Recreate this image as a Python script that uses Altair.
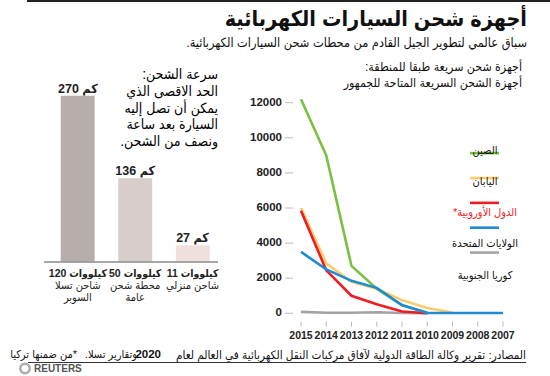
import altair as alt
import pandas as pd

FONT = "Liberation Sans, DejaVu Sans Condensed, DejaVu Sans"
RLM = "\u200f"
LRM = "\u200e"

# ---------------- data ----------------
years = [2015, 2014, 2013, 2012, 2011, 2010, 2009, 2008, 2007]
series_names = ["الصين", "اليابان", "الدول الأوروبية*", "الولايات المتحدة", "كوريا الجنوبية"]
series_colors = ["#78c142", "#fbcb6e", "#ee1d23", "#1f8bd3", "#a3a3a3"]
china = [12200, 9000, 2700, 1400, 450, 50, None, None, None]
japan = [6000, 2850, 1800, 1400, 750, 300, 50, None, None]
europe = [5850, 2450, 1000, 520, 100, 0, None, None, None]
usa = [3500, 2500, 1850, 1450, 470, 20, 20, 20, 20]
korea = [80, 30, 30, 60, 20, 10, None, None, None]
y_ticks = [0, 2000, 4000, 6000, 8000, 10000, 12000]

bar_cats = ["120 كيلووات", "50 كيلووات", "11 كيلووات"]
bar_vals = [270, 136, 27]
bar_value_labels = ["270 كم", "136 كم", "27 كم"]
bar_sub1 = ["شاحن تسلا", "محطة شحن", "شاحن منزلي"]
bar_sub2 = ["السوبر", "عامة", ""]
bar_colors = ["#b7adaa", "#d7cdca", "#f0e0dd"]

title = "أجهزة شحن السيارات الكهربائية"
subtitle = "سباق عالمي لتطوير الجيل القادم من محطات شحن السيارات الكهربائية." + RLM
line_title = ["أجهزة شحن سريعة طبقا للمنطقة:" + RLM, "أجهزة الشحن السريعة المتاحة للجمهور"]
bar_note = ["سرعة الشحن:" + RLM, "الحد الاقصى الذي", "يمكن أن تصل إليه", "السيارة بعد ساعة", "ونصف من الشحن." + RLM]
source_a = "المصادر: تقرير وكالة الطاقة الدولية لآفاق مركبات النقل الكهربائية في العالم لعام"
source_year = "2020"
source_b = "وتقارير تسلا." + RLM
footnote = RLM + "*من ضمنها تركيا"

# ---------------- scales ----------------
XL = alt.Scale(domain=[2007, 2015], range=[503, 301], nice=False, zero=False)
YL = alt.Scale(domain=[0, 12000], range=[313.3, 102.7], nice=False, zero=False)
XB = alt.Scale(domain=bar_cats, range=[49.2, 221.2], paddingInner=0.41, paddingOuter=0.2)
YB = alt.Scale(domain=[0, 270], range=[262, 95.7], nice=False, zero=False)

one = alt.Data(values=[{"a": 1}])

def txt(s, x, y, size=12, weight="normal", align="right", color="#111", baseline="middle", **kw):
    return alt.Chart(one).mark_text(
        font=FONT, fontSize=size, fontWeight=weight, align=align, baseline=baseline,
        color=color, **kw
    ).encode(x=alt.value(x), y=alt.value(y), text=alt.value(s))

layers = []

# header
layers.append(alt.Chart(one).mark_rule(color="#222", strokeWidth=2).encode(
    x=alt.value(27), x2=alt.value(550), y=alt.value(1)))
layers.append(txt(title, 527, 26, size=21.5, weight="bold", baseline="alphabetic"))
layers.append(txt(subtitle, 527, 47, size=12.7, baseline="alphabetic"))

# ---------------- line chart ----------------
ydf = pd.DataFrame({"v": y_ticks})
layers.append(alt.Chart(ydf).mark_rule(color="#bbbbbb", strokeWidth=1).encode(
    x=alt.value(285), x2=alt.value(293), y=alt.Y("v:Q", scale=YL, axis=None)))
layers.append(alt.Chart(ydf).mark_text(font=FONT, fontSize=11.5, fontWeight="bold", align="right",
                                       baseline="middle", color="#222").encode(
    x=alt.value(282), y=alt.Y("v:Q", scale=YL, axis=None), text=alt.Text("v:Q", format="d")))

xdf = pd.DataFrame({"yr": years})
layers.append(alt.Chart(xdf).mark_rule(color="#bbbbbb", strokeWidth=1).encode(
    x=alt.X("yr:Q", scale=XL, axis=None), y=alt.value(321.7), y2=alt.value(326.7)))
layers.append(alt.Chart(xdf).mark_text(font=FONT, fontSize=10.5, fontWeight="bold", align="center",
                                       baseline="middle", color="#222").encode(
    x=alt.X("yr:Q", scale=XL, axis=None), y=alt.value(335.5), text=alt.Text("yr:Q", format="d")))

series_vals = [china, japan, europe, usa, korea]
draw_order = [4, 1, 0, 2, 3]
for i in draw_order:
    rows = [{"yr": y, "v": v} for y, v in zip(years, series_vals[i]) if v is not None]
    layers.append(alt.Chart(pd.DataFrame(rows)).mark_line(color=series_colors[i], strokeWidth=2.6).encode(
        x=alt.X("yr:Q", scale=XL, axis=None), y=alt.Y("v:Q", scale=YL, axis=None)))

# legend (line segments + labels)
ldf = pd.DataFrame({"name": series_names, "col": series_colors})
LEG = alt.Scale(domain=series_names, range=[140.7, 265], padding=0)
layers.append(alt.Chart(ldf).mark_rule(strokeWidth=2.6).encode(
    x=alt.value(470), x2=alt.value(499),
    y=alt.Y("name:N", scale=LEG, axis=None),
    color=alt.Color("col:N", scale=None)))
layers.append(alt.Chart(ldf).mark_text(font=FONT, fontSize=11, align="center", baseline="middle",
                                       dy=10.5).encode(
    x=alt.value(485),
    y=alt.Y("name:N", scale=LEG, axis=None),
    text=alt.Text("label:N"),
    color=alt.Color("tc:N", scale=None)).transform_calculate(
        label="'\u200f' + datum.name + '\u200f'",
        tc="datum.name == '" + series_names[2] + "' ? '#ee1d23' : '#111111'"))

layers.append(txt(line_title, 522, 67, size=12.3, baseline="middle", lineHeight=16))

# ---------------- bar chart ----------------
bdf = pd.DataFrame({"cat": bar_cats, "val": bar_vals, "lab": bar_value_labels,
                    "s1": bar_sub1, "s2": bar_sub2, "col": bar_colors})
BX = alt.X("cat:N", scale=XB, axis=None, sort=bar_cats)
layers.append(alt.Chart(bdf).mark_bar().encode(
    x=BX, y=alt.Y("val:Q", scale=YB, axis=None), color=alt.Color("col:N", scale=None)))
layers.append(alt.Chart(bdf).mark_rule(color="#9a9a9a", strokeWidth=1).encode(
    x=alt.value(44), x2=alt.value(218), y=alt.Y("zero:Q", scale=YB, axis=None)
).transform_calculate(zero="0"))
layers.append(alt.Chart(bdf).mark_text(font=FONT, fontSize=12.5, fontWeight="bold", align="center",
                                       baseline="alphabetic", dy=-3, color="#222").encode(
    x=BX, y=alt.Y("val:Q", scale=YB, axis=None), text="lab2:N"
).transform_calculate(lab2="'\u200e' + datum.lab"))
layers.append(alt.Chart(bdf).mark_text(font=FONT, fontSize=10.5, fontWeight="bold", align="center",
                                       baseline="middle", color="#222").encode(
    x=BX, y=alt.value(273.5), text="cat2:N"
).transform_calculate(cat2="'\u200e' + datum.cat"))
layers.append(alt.Chart(bdf).mark_text(font=FONT, fontSize=11, align="center",
                                       baseline="middle", color="#222").encode(
    x=BX, y=alt.value(285.5), text="s1:N"))
layers.append(alt.Chart(bdf).mark_text(font=FONT, fontSize=11, align="center",
                                       baseline="middle", color="#222").encode(
    x=BX, y=alt.value(298), text="s2:N"))

layers.append(txt(bar_note, 218, 75, size=14, color="#000", baseline="middle", lineHeight=16.8))

# ---------------- footer ----------------
layers.append(txt(source_a, 526, 355, size=11.7, baseline="middle"))
layers.append(txt(source_year, 161, 355, size=11.5, weight="bold", baseline="middle"))
layers.append(txt(source_b, 137, 355, size=11, baseline="middle"))
layers.append(txt(footnote, 77, 355, size=11, baseline="middle"))
layers.append(alt.Chart(one).mark_rule(color="#333", strokeWidth=1).encode(
    x=alt.value(28), x2=alt.value(526), y=alt.value(362.5)))
layers.append(alt.Chart(one).mark_point(shape="circle", size=90, filled=False, color="#8a8a8a",
                                        strokeWidth=2.5).encode(x=alt.value(25), y=alt.value(368.5)))
layers.append(txt("REUTERS", 34, 369, size=10, weight="bold", align="left", color="#555"))

chart = alt.layer(*layers).resolve_scale(
    x="independent", y="independent", color="independent"
).properties(
    width=550, height=376, padding=0, autosize=alt.AutoSizeParams(type="none"),
    background="white"
).configure_view(stroke=None)

chart.save("out.html", embed_options={"renderer": "svg", "actions": False})
